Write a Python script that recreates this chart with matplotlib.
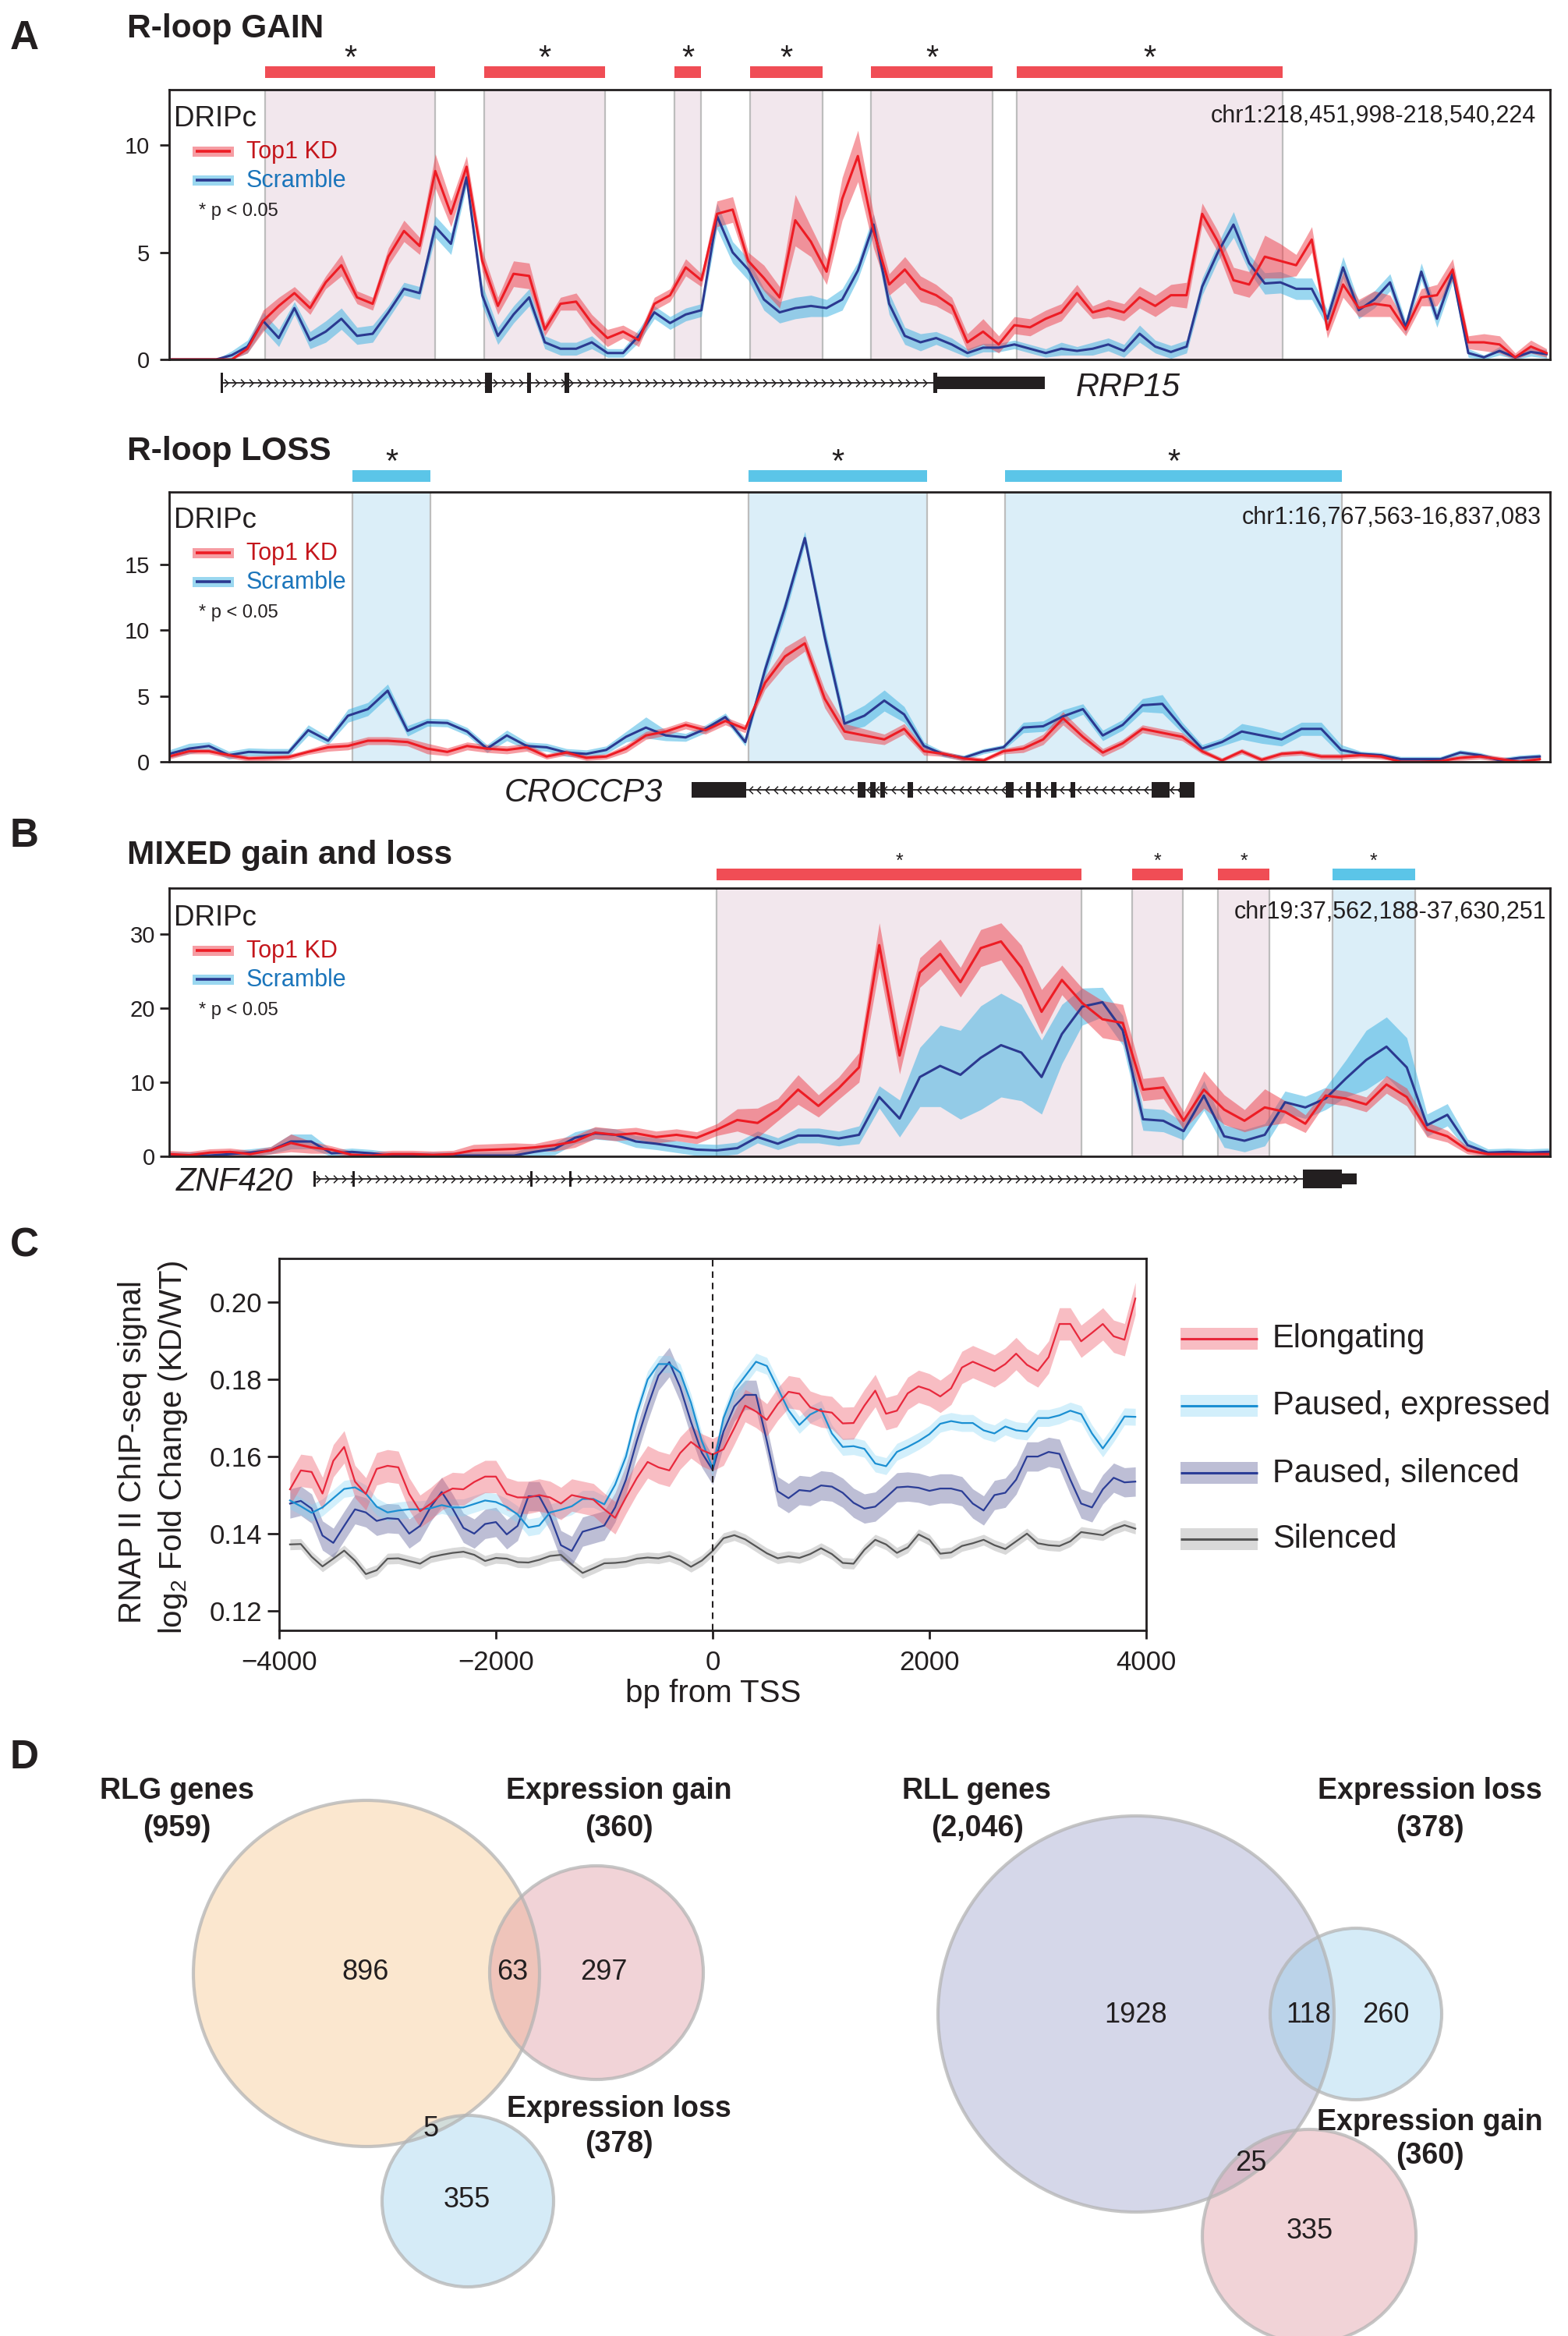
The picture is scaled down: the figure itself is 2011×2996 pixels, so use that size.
import numpy as np
import matplotlib
matplotlib.use("Agg")
import matplotlib.pyplot as plt
from matplotlib.patches import Rectangle, Circle
from matplotlib.path import Path
from matplotlib.transforms import blended_transform_factory
from matplotlib.ticker import FormatStrFormatter

plt.rcParams['font.family'] = ['Liberation Sans', 'DejaVu Sans']
plt.rcParams['mathtext.fontset'] = 'custom'
plt.rcParams['mathtext.rm'] = 'Liberation Sans'
plt.rcParams['mathtext.it'] = 'Liberation Sans:italic'

# ============================ DATA ============================
# ---- Panel A (top): RRP15, chr1:218,451,998-218,540,224, one value per kb
rrp15_label = "chr1:218,451,998-218,540,224"
rrp15_span_kb = 88.226
rrp15_top1 = [0, 0, 0, 0, 0, 0.5, 1.8, 2.5, 3.1, 2.4,
              3.6, 4.4, 2.9, 2.6, 4.8, 6.0, 5.3, 8.8, 6.8, 9.0,
              4.6, 2.5, 4.0, 3.9, 1.4, 2.6, 2.7, 1.7, 1.0, 1.3,
              0.9, 2.6, 3.0, 4.3, 3.7, 6.8, 7.0, 4.6, 3.8, 2.9,
              6.5, 5.5, 4.1, 7.5, 9.5, 6.0, 3.5, 4.2, 3.3, 3.0,
              2.5, 0.8, 1.3, 0.7, 1.6, 1.5, 1.9, 2.2, 3.1, 2.2,
              2.4, 2.2, 2.9, 2.5, 3.0, 3.0, 6.8, 5.5, 3.7, 3.5,
              4.8, 4.6, 4.4, 5.6, 1.4, 3.5, 2.4, 2.6, 2.5, 1.4,
              2.9, 3.0, 4.2, 0.8, 0.8, 0.7, 0.1, 0.6, 0.3]
rrp15_top1_err10 = [0, 0, 0, 0, 0, 2, 5, 4, 3, 3,
                    3, 5, 3, 3, 4, 5, 4, 8, 6, 5,
                    5, 4, 6, 6, 3, 3, 4, 4, 4, 3,
                    3, 3, 3, 4, 3, 6, 6, 4, 6, 5,
                    12, 7, 6, 10, 12, 8, 5, 6, 6, 5,
                    4, 4, 6, 4, 4, 4, 4, 4, 4, 3,
                    4, 4, 5, 5, 5, 6, 5, 5, 6, 6,
                    10, 8, 5, 6, 4, 6, 4, 6, 5, 3,
                    4, 5, 5, 3, 4, 4, 2, 3, 2]
rrp15_scr = [0, 0, 0, 0, 0.2, 0.6, 1.8, 1.0, 2.4, 0.9,
             1.3, 1.9, 1.1, 1.2, 2.2, 3.3, 3.1, 6.2, 5.4, 8.5,
             3.0, 1.1, 2.1, 2.9, 0.8, 0.5, 0.5, 0.8, 0.3, 0.3,
             1.1, 2.2, 1.7, 2.1, 2.3, 6.7, 5.0, 4.2, 2.8, 2.2,
             2.4, 2.5, 2.4, 2.8, 4.15, 6.3, 2.6, 1.1, 0.8, 1.0,
             0.7, 0.3, 0.55, 0.55, 0.7, 0.5, 0.3, 0.5, 0.4, 0.5,
             0.7, 0.4, 1.2, 0.6, 0.35, 0.6, 3.4, 5.0, 6.3, 4.5,
             3.55, 3.6, 3.3, 3.3, 1.9, 4.3, 2.3, 2.8, 3.6, 1.5,
             4.1, 1.9, 4.0, 0.3, 0.1, 0.4, 0.1, 0.35, 0.25]
rrp15_scr_err10 = [0, 0, 0, 0, 2, 3, 4, 4, 3, 4,
                   5, 5, 4, 4, 3, 3, 3, 5, 5, 4,
                   5, 4, 4, 4, 3, 3, 3, 3, 2, 2,
                   3, 3, 3, 3, 3, 6, 5, 5, 5, 5,
                   5, 5, 4, 5, 4, 5, 5, 4, 4, 3,
                   3, 2, 2, 2, 2, 2, 2, 3, 2, 3,
                   3, 3, 4, 3, 3, 3, 4, 4, 6, 4,
                   5, 5, 5, 5, 4, 5, 4, 4, 4, 3,
                   4, 4, 4, 2, 1, 2, 1, 2, 2]
rrp15_regions = [(6.13, 16.99), (20.13, 27.85), (32.29, 33.98), (37.12, 41.75),
                 (44.84, 52.62), (54.16, 71.15)]
rrp15_kinds = ['gain', 'gain', 'gain', 'gain', 'gain', 'gain']
rrp15_intron = (3.35, 48.9)
rrp15_exons = [(3.29, 3.44), (20.18, 20.63), (22.87, 23.12), (25.26, 25.56),
               (48.83, 49.08), (48.98, 55.95)]
rrp15_exon_kind = ['tick', 'tick', 'tick', 'tick', 'tick', 'utr']

# ---- Panel A (bottom): CROCCP3, chr1:16,767,563-16,837,083
croccp3_label = "chr1:16,767,563-16,837,083"
croccp3_span_kb = 69.52
croccp3_top1 = [0.4, 0.8, 0.8, 0.5, 0.25, 0.3, 0.35, 0.75, 1.1, 1.2,
                1.6, 1.6, 1.5, 1.0, 0.75, 1.2, 1.0, 0.9, 1.1, 0.4,
                0.7, 0.3, 0.4, 1.0, 2.0, 2.3, 2.8, 2.4, 3.1, 2.5,
                6.0, 8.0, 9.0, 4.8, 2.3, 2.0, 1.7, 2.5, 0.8, 0.6,
                0.25, 0.1, 0.8, 1.0, 1.7, 3.3, 1.9, 0.7, 1.4, 2.5,
                2.2, 1.9, 0.8, 0.1, 0.8, 0.15, 0.6, 0.7, 0.4, 0.4,
                0.5, 0.4, 0.0, 0.0, 0.05, 0.3, 0.4, 0.2, 0.0, 0.2]
croccp3_top1_err10 = [2, 2, 2, 2, 2, 2, 2, 2, 3, 3,
                      3, 3, 3, 4, 3, 3, 3, 3, 3, 2,
                      2, 2, 2, 3, 3, 3, 3, 3, 3, 3,
                      5, 7, 6, 7, 6, 5, 4, 4, 3, 2,
                      2, 2, 2, 3, 4, 5, 4, 3, 3, 3,
                      3, 3, 2, 2, 2, 2, 2, 2, 2, 2,
                      2, 2, 2, 2, 2, 2, 2, 2, 2, 2]
croccp3_scr = [0.6, 1.0, 1.2, 0.5, 0.75, 0.7, 0.7, 2.4, 1.6, 3.5,
               4.0, 5.4, 2.35, 3.0, 2.95, 2.3, 1.0, 2.0, 1.2, 1.1,
               0.7, 0.6, 0.9, 1.9, 2.6, 2.0, 1.85, 2.5, 3.4, 1.5,
               7.0, 11.7, 17.0, 9.5, 2.9, 3.5, 4.65, 3.6, 1.2, 0.55,
               0.3, 0.8, 1.1, 2.6, 2.7, 3.45, 4.0, 2.0, 2.8, 4.3,
               4.4, 2.6, 1.0, 1.5, 2.3, 2.0, 1.7, 2.5, 2.5, 0.9,
               0.6, 0.5, 0.2, 0.2, 0.2, 0.7, 0.5, 0.1, 0.3, 0.4]
croccp3_scr_err10 = [3, 4, 3, 3, 3, 3, 3, 4, 3, 5,
                     5, 5, 4, 3, 3, 3, 3, 4, 3, 3,
                     3, 3, 3, 4, 8, 4, 3, 3, 3, 3,
                     6, 6, 5, 7, 6, 8, 8, 6, 3, 2,
                     2, 2, 2, 4, 4, 5, 4, 4, 4, 5,
                     7, 4, 3, 3, 6, 6, 5, 5, 5, 4,
                     2, 2, 2, 2, 2, 2, 2, 2, 2, 2]
croccp3_regions = [(9.23, 13.15), (29.17, 38.16), (42.09, 59.05)]
croccp3_kinds = ['loss', 'loss', 'loss']
croccp3_intron = (29.06, 51.63)
croccp3_exons = [(26.31, 29.06), (34.67, 35.06), (35.30, 35.57), (35.81, 36.04),
                 (37.18, 37.46), (42.13, 42.52), (43.15, 43.38), (43.66, 43.89),
                 (44.40, 44.68), (45.39, 45.62), (49.47, 50.37), (50.88, 51.63)]
croccp3_exon_kind = ['exon'] * 12

# ---- Panel B: ZNF420, chr19:37,562,188-37,630,251
znf420_label = "chr19:37,562,188-37,630,251"
znf420_span_kb = 68.063
znf420_top1 = [0.3, 0.15, 0.5, 0.6, 0.3, 0.8, 1.8, 1.2, 0.9, 0.2,
               0.1, 0.3, 0.3, 0.2, 0.3, 0.8, 0.9, 1.0, 1.2, 1.5,
               2.0, 3.2, 2.9, 3.1, 2.6, 2.9, 2.5, 3.6, 4.9, 4.5,
               6.3, 9.0, 6.8, 9.2, 12.0, 28.5, 13.6, 24.8, 27.3, 23.5,
               28.1, 29.0, 25.5, 19.5, 23.8, 20.7, 18.5, 18.0, 9.0, 9.3,
               4.8, 9.0, 6.3, 4.8, 6.6, 6.0, 4.4, 8.2, 7.8, 7.0,
               9.7, 8.0, 3.6, 2.7, 0.8, 0.3, 0.3, 0.3, 0.3]
znf420_top1_err = [0.5, 0.5, 0.5, 0.5, 0.5, 0.5, 1.2, 0.8, 0.5, 0.5,
                   0.5, 0.5, 0.5, 0.5, 0.5, 0.8, 0.8, 0.8, 0.5, 0.8,
                   0.8, 0.8, 0.8, 0.8, 0.8, 0.8, 0.8, 0.8, 1.5, 2.0,
                   1.5, 2.0, 1.5, 1.5, 2.0, 3.0, 2.5, 2.0, 2.0, 2.0,
                   2.5, 2.5, 3.0, 3.0, 2.0, 2.0, 2.5, 2.5, 1.5, 1.5,
                   1.2, 2.5, 2.0, 1.5, 2.5, 1.5, 1.2, 1.0, 1.0, 1.0,
                   1.2, 1.2, 1.0, 0.8, 0.5, 0.3, 0.3, 0.3, 0.3]
znf420_scr = [0.1, 0.1, 0.1, 0.3, 0.5, 0.8, 2.0, 2.0, 0.4, 0.6,
              0.4, 0.05, 0.05, 0.1, 0.1, 0.1, 0.1, 0.1, 0.6, 1.0,
              2.5, 3.1, 2.9, 2.0, 1.7, 1.3, 0.9, 0.8, 1.1, 2.6,
              1.7, 2.8, 2.8, 2.4, 2.9, 8.0, 5.1, 10.7, 12.2, 11.0,
              13.3, 15.0, 14.0, 10.7, 16.5, 20.2, 20.8, 17.0, 5.0, 4.8,
              3.4, 8.2, 2.7, 2.1, 2.9, 7.3, 6.6, 7.8, 10.5, 13.0,
              14.8, 12.0, 4.2, 5.6, 1.5, 0.5, 0.6, 0.5, 0.6]
znf420_scr_err = [0.5, 0.5, 0.5, 0.5, 0.5, 0.5, 1.0, 1.0, 0.5, 0.5,
                  0.5, 0.5, 0.5, 0.5, 0.5, 0.5, 0.5, 0.5, 0.8, 0.8,
                  0.8, 0.8, 0.8, 0.8, 0.8, 0.8, 0.8, 0.8, 0.8, 0.8,
                  0.8, 1.0, 1.0, 1.0, 1.2, 1.5, 2.5, 4.0, 5.5, 6.0,
                  7.0, 7.0, 6.5, 5.0, 4.0, 2.5, 2.0, 2.0, 1.5, 1.5,
                  1.2, 2.0, 1.5, 1.5, 1.5, 1.5, 1.5, 1.5, 2.5, 4.0,
                  4.0, 4.0, 1.5, 1.5, 0.8, 0.5, 0.5, 0.5, 0.5]
znf420_regions = [(26.98, 44.97), (47.46, 49.96), (51.69, 54.23), (57.34, 61.41)]
znf420_kinds = ['gain', 'gain', 'gain', 'loss']
znf420_intron = (7.15, 55.88)
znf420_exons = [(7.11, 7.22), (9.03, 9.15), (17.79, 17.91), (19.72, 19.83),
                (55.88, 57.80), (57.80, 58.53)]
znf420_exon_kind = ['exon', 'exon', 'exon', 'exon', 'big', 'utr']

# ---- Panel C: RNAP II ChIP-seq log2 FC around TSS, every 100 bp from -3900 to 3900
c_categories = ['Elongating', 'Paused, expressed', 'Paused, silenced', 'Silenced']
c_elongating = [0.1515, 0.1564, 0.1560, 0.1504, 0.1589, 0.1625, 0.1535, 0.1503, 0.1568, 0.1576,
                0.1572, 0.1503, 0.1458, 0.1478, 0.1503, 0.1517, 0.1515, 0.1534, 0.1548, 0.1548,
                0.1503, 0.1494, 0.1494, 0.1500, 0.1494, 0.1478, 0.1500, 0.1494, 0.1488, 0.1463,
                0.1441, 0.1494, 0.1544, 0.1586, 0.1572, 0.1564, 0.1609, 0.1638, 0.1617, 0.1605,
                0.1619, 0.1674, 0.1732, 0.1717, 0.1695, 0.1736, 0.1768, 0.1763, 0.1728, 0.1718,
                0.1714, 0.1686, 0.1687, 0.1732, 0.1771, 0.1711, 0.1719, 0.1764, 0.1782, 0.1773,
                0.1756, 0.1777, 0.1831, 0.1846, 0.1834, 0.1822, 0.1840, 0.1867, 0.1838, 0.1822,
                0.1858, 0.1944, 0.1944, 0.1899, 0.1921, 0.1944, 0.1912, 0.1903, 0.2010]
c_paused_expr = [0.1486, 0.1471, 0.1454, 0.1468, 0.1492, 0.1516, 0.1520, 0.1504, 0.1470, 0.1455,
                 0.1460, 0.1463, 0.1463, 0.1466, 0.1474, 0.1468, 0.1468, 0.1477, 0.1486, 0.1482,
                 0.1469, 0.1450, 0.1416, 0.1421, 0.1455, 0.1462, 0.1471, 0.1490, 0.1490, 0.1476,
                 0.1527, 0.1600, 0.1711, 0.1800, 0.1840, 0.1840, 0.1818, 0.1740, 0.1640, 0.1570,
                 0.1700, 0.1772, 0.1809, 0.1846, 0.1835, 0.1778, 0.1720, 0.1682, 0.1709, 0.1723,
                 0.1660, 0.1625, 0.1627, 0.1620, 0.1582, 0.1575, 0.1612, 0.1625, 0.1640, 0.1658,
                 0.1685, 0.1692, 0.1687, 0.1687, 0.1668, 0.1660, 0.1678, 0.1668, 0.1665, 0.1700,
                 0.1700, 0.1707, 0.1719, 0.1710, 0.1660, 0.1621, 0.1660, 0.1704, 0.1703]
c_paused_sil = [0.1478, 0.1485, 0.1465, 0.1395, 0.1376, 0.1420, 0.1463, 0.1455, 0.1433, 0.1440,
                0.1438, 0.1400, 0.1420, 0.1470, 0.1508, 0.1465, 0.1415, 0.1400, 0.1425, 0.1430,
                0.1398, 0.1420, 0.1497, 0.1497, 0.1445, 0.1370, 0.1355, 0.1405, 0.1413, 0.1421,
                0.1468, 0.1540, 0.1640, 0.1730, 0.1810, 0.1845, 0.1780, 0.1690, 0.1610, 0.1565,
                0.1665, 0.1730, 0.1760, 0.1760, 0.1640, 0.1510, 0.1492, 0.1513, 0.1510, 0.1525,
                0.1522, 0.1506, 0.1480, 0.1465, 0.1470, 0.1494, 0.1520, 0.1522, 0.1519, 0.1511,
                0.1517, 0.1517, 0.1510, 0.1478, 0.1460, 0.1500, 0.1506, 0.1540, 0.1600, 0.1600,
                0.1612, 0.1607, 0.1540, 0.1478, 0.1468, 0.1515, 0.1545, 0.1533, 0.1535]
c_silenced = [0.1372, 0.1373, 0.1340, 0.1315, 0.1335, 0.1356, 0.1330, 0.1295, 0.1305, 0.1335,
              0.1336, 0.1329, 0.1322, 0.1339, 0.1345, 0.1350, 0.1353, 0.1345, 0.1329, 0.1337,
              0.1335, 0.1326, 0.1325, 0.1332, 0.1342, 0.1345, 0.1320, 0.1298, 0.1310, 0.1323,
              0.1324, 0.1327, 0.1335, 0.1338, 0.1336, 0.1342, 0.1331, 0.1314, 0.1330, 0.1355,
              0.1388, 0.1396, 0.1385, 0.1367, 0.1349, 0.1336, 0.1341, 0.1337, 0.1347, 0.1362,
              0.1347, 0.1324, 0.1322, 0.1358, 0.1384, 0.1372, 0.1350, 0.1364, 0.1398, 0.1384,
              0.1348, 0.1351, 0.1368, 0.1375, 0.1384, 0.1370, 0.1360, 0.1380, 0.1400, 0.1375,
              0.1370, 0.1368, 0.1380, 0.1404, 0.1400, 0.1396, 0.1412, 0.1422, 0.1413]
c_halfwidth = [0.0042, 0.0022, 0.0038, 0.0014]
c_xticks = [-4000, -2000, 0, 2000, 4000]
c_yticks = [0.12, 0.14, 0.16, 0.18, 0.20]

# ---- Panel D: Venn counts
rlg_total, gain_total, loss_total, rll_total = "959", "360", "378", "2,046"
venn_left_counts = ["896", "63", "297", "5", "355"]
venn_right_counts = ["1928", "118", "260", "25", "335"]

# ============================ FIGURE ============================
W, H = 2011, 2996
fig = plt.figure(figsize=(W / 100, H / 100), dpi=100)

INK = '#231f20'
RED_LINE, RED_BAND = '#ed1c24', '#ee3d48'
BLUE_LINE, BLUE_BAND = '#2b3990', '#36b0e2'
SHADE = {'gain': '#f2e7ed', 'loss': '#dbeef8'}
BAR = {'gain': '#f04d55', 'loss': '#5bc5e8'}


def add_ax(l, t, r, b, **kw):
    return fig.add_axes([l / W, 1 - b / H, (r - l) / W, (b - t) / H], **kw)


def style_spines(ax, lw=2.0):
    for sp in ax.spines.values():
        sp.set_linewidth(lw)
        sp.set_color(INK)


def track(box, span, top1, top1_err, scr, scr_err, ymax, yticks, regions, kinds,
          bar_px, star_base, star_fs, tick_pad):
    l, t, r, b = box
    ax = add_ax(l, t, r, b)
    x = np.arange(len(top1)) * 1.0
    t1, e1 = np.array(top1, float), np.array(top1_err, float)
    s1, es = np.array(scr, float), np.array(scr_err, float)
    for (s, e), k in zip(regions, kinds):
        ax.axvspan(s, e, color=SHADE[k], lw=0, zorder=0)
        for v in (s, e):
            ax.axvline(v, color='#bdbdbd', lw=1.6, zorder=0.5)
    ax.fill_between(x, np.clip(s1 - es, 0, None), s1 + es, color=BLUE_BAND, alpha=0.5, lw=0, zorder=1)
    ax.fill_between(x, np.clip(t1 - e1, 0, None), t1 + e1, color=RED_BAND, alpha=0.5, lw=0, zorder=1.1)
    ax.plot(x, s1, color=BLUE_LINE, lw=2.2, zorder=2, solid_joinstyle='round')
    ax.plot(x, t1, color=RED_LINE, lw=2.2, zorder=2.1, solid_joinstyle='round')
    ax.set_xlim(0, span)
    ax.set_ylim(0, ymax)
    ax.set_xticks([])
    ax.set_yticks(yticks)
    ax.tick_params(axis='y', direction='out', length=9, width=2, labelsize=21,
                   pad=tick_pad, colors=INK)
    style_spines(ax)
    trans = blended_transform_factory(ax.transData, ax.transAxes)
    hh = b - t
    for (s, e), k in zip(regions, kinds):
        ax.add_patch(Rectangle((s, (b - bar_px[1]) / hh), e - s, (bar_px[1] - bar_px[0]) / hh,
                               transform=trans, color=BAR[k], lw=0, clip_on=False))
        ax.text((s + e) / 2, (b - star_base) / hh, '*', transform=trans, ha='center',
                va='baseline', fontsize=star_fs, color=INK, clip_on=False)
    return ax


chev_r = Path([(-0.5, 1.0), (0.5, 0.0), (-0.5, -1.0)], [Path.MOVETO, Path.LINETO, Path.LINETO])
chev_l = Path([(0.5, 1.0), (-0.5, 0.0), (0.5, -1.0)], [Path.MOVETO, Path.LINETO, Path.LINETO])
EXON_H = {'tick': 25, 'exon': 20, 'utr': 15, 'big': 24}
EXON_H_ZNF = {'exon': 20, 'big': 24, 'utr': 14}


def gene(box, span, intron, strand, exons, kinds, heights):
    l, t, r, b = box
    g = add_ax(l, t, r, b)
    g.set_xlim(0, span)
    g.set_ylim(-20, 20)
    g.axis('off')
    g.plot(intron, [0, 0], color=INK, lw=1.3, solid_capstyle='butt')
    step = 10.8 * span / (r - l)
    xs = np.arange(intron[0] + step / 2, intron[1] - step / 3, step)
    g.plot(xs, np.zeros_like(xs), ls='none', marker=chev_r if strand > 0 else chev_l,
           ms=7, mfc='none', mec=INK, mew=1.1)
    for (s, e), k in zip(exons, kinds):
        hpx = heights[k]
        g.add_patch(Rectangle((s, -hpx / 2), e - s, hpx, color=INK, lw=0))
    return g


# ---- Tracks
track((217, 115, 1988, 461), rrp15_span_kb, rrp15_top1, np.array(rrp15_top1_err10) / 10,
      rrp15_scr, np.array(rrp15_scr_err10) / 10, 12.6, [0, 5, 10],
      rrp15_regions, rrp15_kinds, (85, 100), 87, 30, 9)
gene((217, 471, 1988, 511), rrp15_span_kb, rrp15_intron, +1, rrp15_exons, rrp15_exon_kind, EXON_H)

track((217, 631, 1988, 977), croccp3_span_kb, croccp3_top1, np.array(croccp3_top1_err10) / 10,
      croccp3_scr, np.array(croccp3_scr_err10) / 10, 20.5, [0, 5, 10, 15],
      croccp3_regions, croccp3_kinds, (603, 618), 605, 30, 9)
gene((217, 993, 1988, 1033), croccp3_span_kb, croccp3_intron, -1, croccp3_exons, croccp3_exon_kind, EXON_H)

track((217, 1139, 1988, 1483), znf420_span_kb, znf420_top1, znf420_top1_err,
      znf420_scr, znf420_scr_err, 36.2, [0, 10, 20, 30],
      znf420_regions, znf420_kinds, (1114, 1129), 1112, 18, 4)
gene((217, 1492, 1988, 1532), znf420_span_kb, znf420_intron, +1, znf420_exons, znf420_exon_kind, EXON_H_ZNF)

# ---- Panel C
axc = add_ax(358, 1614, 1470, 2091)
pos = np.arange(-3900, 3901, 100)
c_series = [c_elongating, c_paused_expr, c_paused_sil, c_silenced]
c_line = ['#e8283c', '#1b8fd2', '#2b3d96', '#555555']
c_band = ['#ef5a6a', '#7fd3f5', '#5a5e98', '#a0a0a0']
c_alpha = [0.4, 0.35, 0.4, 0.4]
for i in [3, 2, 1, 0]:
    v = np.array(c_series[i])
    axc.fill_between(pos, v - c_halfwidth[i], v + c_halfwidth[i], color=c_band[i],
                     alpha=c_alpha[i], lw=0, zorder=1)
for i in [3, 2, 1, 0]:
    axc.plot(pos, c_series[i], color=c_line[i], lw=1.6, zorder=2)
axc.axvline(0, color=INK, lw=1.5, ls=(0, (4, 3)), zorder=3)
axc.set_xlim(-4000, 4000)
axc.set_ylim(0.1149, 0.2114)
axc.set_xticks(c_xticks)
axc.set_yticks(c_yticks)
axc.yaxis.set_major_formatter(FormatStrFormatter('%.2f'))
axc.tick_params(axis='y', length=11, width=2, labelsize=25, pad=5, colors=INK)
axc.tick_params(axis='x', length=8, width=2, labelsize=25, pad=10, colors=INK)
style_spines(axc)

# ---- Overlay for annotations and Venn diagrams (pixel coordinates)
ov = fig.add_axes([0, 0, 1, 1], zorder=10)
ov.set_xlim(0, W)
ov.set_ylim(H, 0)
ov.axis('off')

for letter, yb in [('A', 63), ('B', 1086), ('C', 1611), ('D', 2268)]:
    ov.text(13, yb, letter, fontsize=37, fontweight='bold', va='baseline', ha='left', color=INK)
for title, yb in [('R-loop GAIN', 48), ('R-loop LOSS', 590), ('MIXED gain and loss', 1108)]:
    ov.text(163, yb, title, fontsize=30.5, fontweight='bold', va='baseline', ha='left', color=INK)

for (drip_b, kd_b, sc_b, p_b) in [(162, 203, 240, 277), (677, 718, 755, 792), (1187, 1228, 1265, 1302)]:
    ov.text(223, drip_b, 'DRIPc', fontsize=26.5, va='baseline', ha='left', color=INK)
    for yb, band, line, lab, tc in [(kd_b, RED_BAND, RED_LINE, 'Top1 KD', '#c4161c'),
                                    (sc_b, BLUE_BAND, BLUE_LINE, 'Scramble', '#1b75bb')]:
        yc = yb - 9
        ov.add_patch(Rectangle((247, yc - 6.5), 53, 13, color=band, alpha=0.5, lw=0))
        ov.plot([251, 296], [yc, yc], color=line, lw=2.6, solid_capstyle='butt')
        ov.text(316, yb, lab, fontsize=22, va='baseline', ha='left', color=tc)
    ov.text(255, p_b, '* p < 0.05', fontsize=17, va='baseline', ha='left', color=INK)

for lab, xr, yb in [(rrp15_label, 1970, 157), (croccp3_label, 1977, 672), (znf420_label, 1983, 1178)]:
    ov.text(xr, yb, lab, fontsize=22, va='baseline', ha='right', color=INK)
for lab, xl, yb in [('RRP15', 1380, 508), ('CROCCP3', 647, 1028), ('ZNF420', 226, 1527)]:
    ov.text(xl, yb, lab, fontsize=30, fontstyle='italic', va='baseline', ha='left', color=INK)

# Panel C labels and legend
ov.text(170, 1862, 'RNAP II ChIP-seq signal', fontsize=29, rotation=90, ha='center', va='center', color=INK)
ov.text(222, 1856, r'log$_2$ Fold Change (KD/WT)', fontsize=29, rotation=90, ha='center', va='center', color=INK)
ov.text(915, 2183, 'bp from TSS', fontsize=29, ha='center', va='baseline', color=INK)
for i, yc in enumerate([1717, 1803, 1889, 1974]):
    ov.add_patch(Rectangle((1514, yc - 14), 99, 28, color=c_band[i], alpha=c_alpha[i], lw=0))
    ov.plot([1514, 1613], [yc, yc], color=c_line[i], lw=2.2, solid_capstyle='butt')
    ov.text(1632, yc + 11, c_categories[i], fontsize=30, va='baseline', ha='left', color=INK)

# Panel D Venns
EDGE = '#b4b4b4'
left_circles = [((470, 2531), 222, '#f7c587'), ((765, 2530), 137, '#de919b'), ((600, 2823), 110, '#96cfeb')]
right_circles = [((1457, 2583), 254, '#969bc8'), ((1739, 2583), 110, '#96cfeb'), ((1679, 2868), 137, '#de919b')]
for circles in (left_circles, right_circles):
    for c, rr, col in circles:
        ov.add_patch(Circle(c, rr, facecolor=col, alpha=0.4, lw=0))
    for c, rr, col in circles:
        ov.add_patch(Circle(c, rr, fill=False, edgecolor=EDGE, lw=3.0, alpha=0.75))

bold = dict(fontsize=27, fontweight='bold', ha='center', va='baseline', color=INK)
ov.text(227, 2307, 'RLG genes', **bold)
ov.text(227, 2355, '(' + rlg_total + ')', **bold)
ov.text(794, 2307, 'Expression gain', **bold)
ov.text(794, 2355, '(' + gain_total + ')', **bold)
ov.text(794, 2715, 'Expression loss', **bold)
ov.text(794, 2760, '(' + loss_total + ')', **bold)
ov.text(1252, 2307, 'RLL genes', **bold)
ov.text(1254, 2355, '(' + rll_total + ')', **bold)
ov.text(1834, 2307, 'Expression loss', **bold)
ov.text(1834, 2355, '(' + loss_total + ')', **bold)
ov.text(1834, 2732, 'Expression gain', **bold)
ov.text(1834, 2775, '(' + gain_total + ')', **bold)

num = dict(fontsize=26, ha='center', va='baseline', color=INK)
for s, (xc, yb) in zip(venn_left_counts, [(469, 2539), (657, 2539), (774, 2539), (553, 2740), (599, 2831)]):
    ov.text(xc, yb, s, **num)
for s, (xc, yb) in zip(venn_right_counts, [(1457, 2594), (1678, 2594), (1777, 2594), (1604, 2784), (1680, 2871)]):
    ov.text(xc, yb, s, **num)

fig.savefig('out.png', dpi=100)
